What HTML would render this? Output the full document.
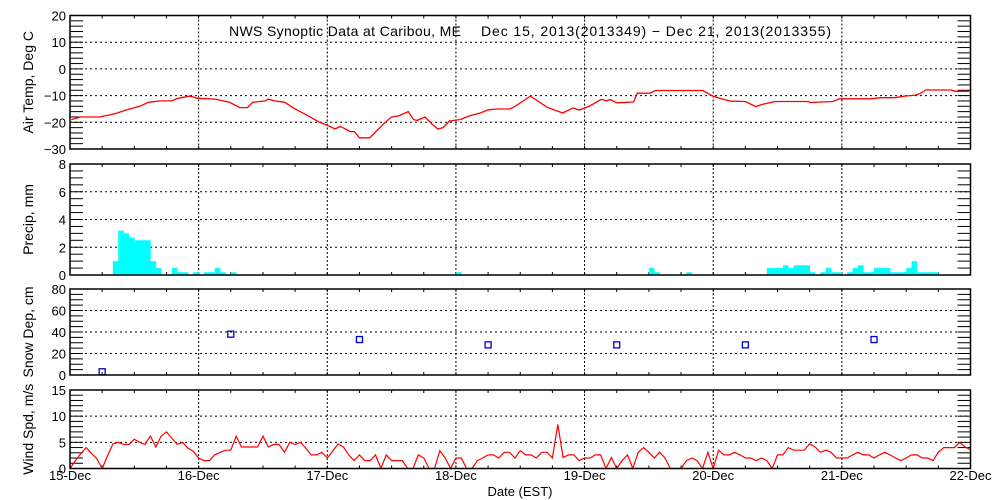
<!DOCTYPE html>
<html><head><meta charset="utf-8"><style>
body{margin:0;background:#fff}
svg{display:block;font-family:"Liberation Sans",sans-serif}
</style></head><body>
<svg id="chart" width="1000" height="500" viewBox="0 0 1000 500" xmlns="http://www.w3.org/2000/svg"></svg>
<script>
const dayLabels=["15-Dec","16-Dec","17-Dec","18-Dec","19-Dec","20-Dec","21-Dec","22-Dec"];
const tempDays=[0.01,0.08,0.23,0.35,0.43,0.54,0.61,0.70,0.79,0.84,0.93,0.99,1.13,1.24,1.32,1.38,1.42,1.52,1.54,1.59,1.67,1.73,1.83,1.94,2.02,2.06,2.10,2.18,2.21,2.25,2.33,2.45,2.50,2.56,2.63,2.67,2.70,2.76,2.81,2.86,2.90,2.95,3.03,3.11,3.19,3.25,3.32,3.42,3.46,3.58,3.71,3.83,3.91,3.96,4.04,4.13,4.17,4.20,4.25,4.38,4.41,4.51,4.55,4.92,4.99,5.05,5.14,5.25,5.33,5.39,5.48,5.58,5.74,5.75,5.93,5.98,6.23,6.30,6.41,6.49,6.57,6.61,6.65,6.85,6.88,6.99];
const tempVals=[-19,-18,-18,-16.8,-15.5,-14,-12.5,-12,-12,-11,-10.2,-11,-11.3,-12.5,-14.5,-14.5,-12.5,-12,-11.3,-12,-12.5,-14.5,-17,-20,-21.5,-22.5,-21.5,-23.5,-23.5,-25.8,-25.8,-20,-18,-17.5,-16,-19,-19.3,-18,-20.5,-22.5,-22,-19.5,-19,-17.5,-16.5,-15.3,-15,-15,-14,-10.2,-14.4,-16.5,-14.6,-15.4,-13.9,-11.4,-12,-11.5,-12.7,-12.4,-9.1,-9.1,-8.1,-8.1,-10,-11,-12.1,-12.2,-14.1,-13.2,-12.2,-12.2,-12.2,-12.6,-12.2,-11.2,-11.2,-10.8,-10.8,-10.2,-9.8,-9.2,-7.9,-7.9,-8.4,-8.4];
const precipHours=[8,9,10,11,12,13,14,15,16,19,20,21,23,25,26,27,28,30,72,108,109,115,130,131,132,133,134,135,136,137,138,140,141,142,143,145,146,147,148,149,150,151,152,153,154,155,156,157,158,159,160,161];
const precipVals=[1.0,3.2,3.0,2.7,2.5,2.5,2.5,1.0,0.5,0.5,0.2,0.2,0.2,0.2,0.2,0.5,0.2,0.2,0.2,0.5,0.2,0.2,0.5,0.5,0.5,0.7,0.5,0.7,0.7,0.7,0.2,0.2,0.5,0.2,0.2,0.2,0.5,0.7,0.2,0.2,0.5,0.5,0.5,0.2,0.2,0.2,0.5,1.0,0.2,0.2,0.2,0.2];
const snowHours=[6,30,54,78,102,126,150];
const snowVals=[3,38,33,28,28,28,33];
const windVals=[0,1.5,2.8,4.0,2.9,1.9,0,2.4,4.7,5.0,4.6,4.6,5.6,5.0,4.6,6.2,4.1,6.2,7.0,5.8,4.6,5.0,3.9,3.3,2.0,1.5,1.5,2.6,3.1,3.5,3.5,6.2,4.1,4.1,4.1,4.1,6.2,4.1,4.6,4.6,3.1,5.0,4.6,5.0,3.9,2.6,2.6,3.1,2.0,3.3,4.7,4.1,2.6,1.5,2.6,1.5,1.5,2.6,0,2.6,1.5,1.5,1.5,0,0,2.6,2.0,0,0,3.4,2.0,0,2.0,2.0,0,0,1.5,2.0,2.6,2.6,2.0,3.1,3.1,2.0,3.4,2.6,2.6,2.0,3.1,3.1,2.0,8.4,2.1,2.6,2.6,1.5,2.0,2.0,2.6,2.6,0,2.1,0,1.5,2.6,0,3.1,4.0,3.1,2.0,3.1,2.0,0,0,0,1.5,2.0,1.5,0,3.1,0,3.5,2.6,2.6,3.1,2.6,2.0,2.0,1.5,2.0,1.5,0,2.6,2.6,4.0,3.5,3.5,3.5,4.7,4.1,3.1,3.5,3.1,2.0,2.0,2.0,2.6,3.1,2.6,2.6,2.0,2.6,3.1,2.6,2.0,1.5,2.0,2.6,2.6,2.0,2.0,1.5,3.1,4.0,4.0,4.0,5.0,4.1,3.6];

const svg=document.getElementById('chart');
const NS='http://www.w3.org/2000/svg';
const X0=70,X1=970.5;
function xd(d){return X0+(X1-X0)*d/7;}
function xh(h){return xd(h/24);}
function mk(tag,attrs,parent){const e=document.createElementNS(NS,tag);for(const k in attrs)e.setAttribute(k,attrs[k]);(parent||svg).appendChild(e);return e;}

const panels=[
 {name:'air-temp',top:15.5,bot:149,min:-30,max:20,major:[-30,-20,-10,0,10,20],minor:2,title:'Air Temp, Deg C'},
 {name:'precip',top:164,bot:275,min:0,max:8,major:[0,2,4,6,8],minor:0.5,title:'Precip, mm'},
 {name:'snow-depth',top:289,bot:375,min:0,max:80,major:[0,20,40,60,80],minor:5,title:'Snow Dep, cm'},
 {name:'wind-speed',top:390,bot:468.5,min:0,max:15,major:[0,5,10,15],minor:1,title:'Wind Spd, m/s'}
];
function yf(p){return v=>p.bot-(v-p.min)/(p.max-p.min)*(p.bot-p.top);}

panels.forEach((p,pi)=>{
 const y=yf(p);
 const g=mk('g',{});
 
 
 p.major.forEach(v=>{if(v===p.min||v===p.max)return;
  const l=mk('line',{x1:X0,x2:X1,y1:y(v),y2:y(v),stroke:'#000','stroke-width':1,'stroke-dasharray':'2,3'},g);
  });
 for(let d=1;d<7;d++){
  const l=mk('line',{x1:xd(d),x2:xd(d),y1:p.top,y2:p.bot,stroke:'#000','stroke-width':1,'stroke-dasharray':'2,2'},g);
  }
 for(let v=p.min;v<=p.max+1e-9;v+=p.minor){
  mk('line',{x1:X0,x2:X0+13,y1:y(v),y2:y(v),stroke:'#000','stroke-width':1},g);
  mk('line',{x1:X1-13,x2:X1,y1:y(v),y2:y(v),stroke:'#000','stroke-width':1},g);}
 for(let h=6;h<168;h+=6){
  mk('line',{x1:xh(h),x2:xh(h),y1:p.top,y2:p.top+3,stroke:'#000'},g);
  mk('line',{x1:xh(h),x2:xh(h),y1:p.bot,y2:p.bot-3,stroke:'#000'},g);}
 p.major.forEach(v=>{
  const t=mk('text',{x:66,y:y(v)+5,'text-anchor':'end','font-size':13,fill:'#000'},g);
  t.textContent=(v<0?'\u2212'+(-v):v);
  });
 const t=mk('text',{x:0,y:0,'text-anchor':'middle','font-size':14,fill:'#000',transform:`translate(33,${(p.top+p.bot)/2}) rotate(-90)`},g);
 t.textContent=p.title;
 
 p.g=g;p.y=y;
});

{const p=panels[0];const pts=tempDays.map((d,i)=>xd(d).toFixed(1)+','+p.y(tempVals[i]).toFixed(1)).join(' ');
 const l=mk('polyline',{points:pts,fill:'none',stroke:'#f00','stroke-width':1.3},p.g);
 }
{const p=panels[1];precipHours.forEach((h,i)=>{
 const r=mk('rect',{x:xh(h),y:p.y(precipVals[i]),width:xh(h+1)-xh(h)+0.3,height:p.y(0)-p.y(precipVals[i]),fill:'#00ffff'},p.g);
 });}
{const p=panels[2];snowHours.forEach((h,i)=>{
 const r=mk('rect',{x:xh(h)-3,y:p.y(snowVals[i])-3,width:6,height:6,fill:'none',stroke:'#0000cc','stroke-width':1.3},p.g);
 });}
{const p=panels[3];const pts=windVals.map((v,i)=>xh(i).toFixed(1)+','+p.y(v).toFixed(1)).join(' ');
 const l=mk('polyline',{points:pts,fill:'none',stroke:'#f00','stroke-width':1.2},p.g);
 }
panels.forEach(p=>{const r=mk('rect',{x:X0,y:p.top,width:X1-X0,height:p.bot-p.top,fill:'none',stroke:'#000','stroke-width':1.5},p.g);
 });
dayLabels.forEach((s,i)=>{const t=mk('text',{x:xd(i),y:480,'text-anchor':'middle','font-size':13,fill:'#000'});
 t.textContent=s;});
{const t=mk('text',{x:520,y:496,'text-anchor':'middle','font-size':13,fill:'#000'});
 t.textContent='Date (EST)';}
{const t=mk('text',{x:229,y:36,'font-size':14,fill:'#000',textLength:232,lengthAdjust:'spacing'});
 t.textContent='NWS Synoptic Data at Caribou, ME';
 }
{const t=mk('text',{x:481,y:36,'font-size':14,fill:'#000',textLength:350,lengthAdjust:'spacing'});
 t.textContent='Dec 15, 2013(2013349) \u2212 Dec 21, 2013(2013355)';
 }
</script>
</body></html>
